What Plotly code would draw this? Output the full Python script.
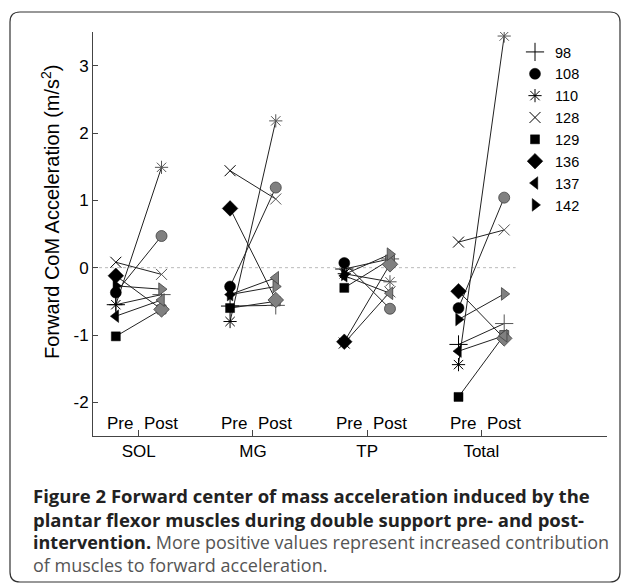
import plotly.graph_objects as go

# ---------------- data ----------------
subjects = ["98", "108", "110", "128", "129", "136", "137", "142"]
groups = ["SOL", "MG", "TP", "Total"]
phase_labels = ["Pre", "Post"]
y_ticks = [-2, -1, 0, 1, 2, 3]
y_tick_text = ["-2", "-1", "0", "1", "2", "3"]

sol_pre   = [-0.55, -0.37, -0.55,  0.08, -1.02, -0.12, -0.72, -0.27]
sol_post  = [-0.40,  0.47,  1.49, -0.10, -0.62, -0.62, -0.48, -0.32]
mg_pre    = [-0.57, -0.28, -0.80,  1.44, -0.60,  0.88, -0.40, -0.40]
mg_post   = [-0.56,  1.19,  2.18,  1.02, -0.50, -0.48, -0.15, -0.28]
tp_pre    = [-0.02,  0.07, -0.09, -1.12, -0.30, -1.10, -0.12, -0.10]
tp_post   = [ 0.13, -0.61, -0.21, -0.36,  0.12,  0.05, -0.38,  0.20]
tot_pre   = [-1.14, -0.60, -1.44,  0.38, -1.92, -0.35, -1.24, -0.77]
tot_post  = [-0.83,  1.04,  3.44,  0.56, -1.00, -1.05, -1.01, -0.39]

pre_vals = [sol_pre, mg_pre, tp_pre, tot_pre]
post_vals = [sol_post, mg_post, tp_post, tot_post]

# ---------------- styles ----------------
symbols = ["cross-thin-open", "circle", "asterisk-open", "x-thin-open",
           "square", "diamond", "triangle-left", "triangle-right"]
sizes = [13, 11, 11, 11, 9, 12, 11, 11]
open_sym = [True, False, True, True, False, False, False, False]
OFF = 0.2
FONT = "Arial, Liberation Sans, sans-serif"

# page has an 8px body margin: figure pixel = page pixel - 8
PAGE_OFF = 8
W, H = 629 - PAGE_OFF, 584 - PAGE_OFF
L = 93 - PAGE_OFF
T = 32 - PAGE_OFF
R = W - (607 - PAGE_OFF)
B = H - (436 - PAGE_OFF)
pw, ph = W - L - R, H - T - B


def px(page_x):
    return (page_x - PAGE_OFF - L) / pw


def py(page_y):
    return (H - B - (page_y - PAGE_OFF)) / ph


fig = go.Figure()
gx = list(range(1, len(groups) + 1))

# connecting lines
for i, s in enumerate(subjects):
    xs, ys = [], []
    for g in range(len(groups)):
        xs += [gx[g] - OFF, gx[g] + OFF, None]
        ys += [pre_vals[g][i], post_vals[g][i], None]
    fig.add_trace(go.Scatter(x=xs, y=ys, mode="lines", showlegend=False,
                             line=dict(color="#222222", width=1), hoverinfo="skip"))

# pre (black) and post (gray) markers
for i, s in enumerate(subjects):
    xpre = [g - OFF for g in gx]
    xpost = [g + OFF for g in gx]
    ypre = [pre_vals[g][i] for g in range(len(groups))]
    ypost = [post_vals[g][i] for g in range(len(groups))]
    if open_sym[i]:
        mpre = dict(symbol=symbols[i], size=sizes[i], color="black",
                    line=dict(color="black", width=1))
        mpost = dict(symbol=symbols[i], size=sizes[i], color="#555555",
                     line=dict(color="#555555", width=1))
    else:
        mpre = dict(symbol=symbols[i], size=sizes[i], color="black",
                    line=dict(color="black", width=0.5))
        mpost = dict(symbol=symbols[i], size=sizes[i], color="#808080",
                     line=dict(color="#404040", width=0.8))
    fig.add_trace(go.Scatter(x=xpost, y=ypost, mode="markers", marker=mpost,
                             showlegend=False, legendgroup=s))
    fig.add_trace(go.Scatter(x=xpre, y=ypre, mode="markers", marker=mpre,
                             name=s, legendgroup=s, legendrank=i + 1))

# zero reference line
fig.add_shape(type="line", xref="x", yref="y", x0=0.6, x1=4.3, y0=0, y1=0,
              line=dict(color="#bbbbbb", width=1, dash="dot"), layer="below")

# Pre / Post labels
for g in gx:
    fig.add_annotation(x=g - 0.03, y=-2.5, xref="x", yref="y", text=phase_labels[0],
                       showarrow=False, xanchor="right", yanchor="bottom", yshift=1,
                       font=dict(family=FONT, size=17, color="black"))
    fig.add_annotation(x=g + 0.03, y=-2.5, xref="x", yref="y", text=phase_labels[1],
                       showarrow=False, xanchor="left", yanchor="bottom", yshift=1,
                       font=dict(family=FONT, size=17, color="black"))

# y-axis title
fig.add_annotation(x=px(51), y=py(212), xref="paper", yref="paper",
                   text="Forward CoM Acceleration (m/s<sup>2</sup>)", textangle=-90,
                   showarrow=False, xanchor="center", yanchor="middle",
                   font=dict(family=FONT, size=20, color="black"))

# caption
cap_font = "Open Sans, Noto Sans, sans-serif"
cap_lines = [
    "<b>Figure 2 Forward center of mass acceleration induced by the</b>",
    "<b>plantar flexor muscles during double support pre- and post-</b>",
    "<b>intervention.</b> <span style='color:#555555'>More positive values represent increased contribution</span>",
    "<span style='color:#555555'>of muscles to forward acceleration.</span>",
]
cap_sizes = [18.5, 18.5, 18, 18]
cap_y = [496, 519, 542, 565]
for t, yy, fs in zip(cap_lines, cap_y, cap_sizes):
    fig.add_annotation(x=px(31), y=py(yy), xref="paper", yref="paper", text=t,
                       showarrow=False, xanchor="left", yanchor="middle",
                       font=dict(family=cap_font, size=fs, color="#222222"))

# rounded border
x0, x1, y0, y1, r = px(10), px(620), py(582), py(12), 10
rx, ry = r / pw, r / ph
path = (f"M {x0+rx},{y1} L {x1-rx},{y1} Q {x1},{y1} {x1},{y1-ry} "
        f"L {x1},{y0+ry} Q {x1},{y0} {x1-rx},{y0} L {x0+rx},{y0} "
        f"Q {x0},{y0} {x0},{y0+ry} L {x0},{y1-ry} Q {x0},{y1} {x0+rx},{y1} Z")
fig.add_shape(type="path", xref="paper", yref="paper", path=path,
              line=dict(color="#333333", width=1.2))

fig.update_layout(
    width=W, height=H,
    margin=dict(l=L, r=R, t=T, b=B, autoexpand=False),
    paper_bgcolor="white", plot_bgcolor="white",
    font=dict(family=FONT, size=16, color="black"),
    showlegend=True,
    legend=dict(x=px(515), y=py(36), xanchor="left", yanchor="top",
                bgcolor="rgba(0,0,0,0)", font=dict(family=FONT, size=14.5),
                tracegroupgap=0, itemclick=False),
    xaxis=dict(range=[0.6, 5.1], tickvals=gx, ticktext=groups, ticks="inside",
               ticklen=6, tickcolor="#444444", showline=True, linecolor="#444444",
               linewidth=1, showgrid=False, zeroline=False,
               tickfont=dict(family=FONT, size=17), fixedrange=True),
    yaxis=dict(range=[-2.5, 3.5], tickvals=y_ticks, ticktext=y_tick_text,
               ticks="inside", ticklen=5,
               tickcolor="#444444", showline=True, linecolor="#444444", linewidth=1,
               showgrid=False, zeroline=False, tickfont=dict(family=FONT, size=17),
               fixedrange=True),
)

fig.write_html("out.html")
